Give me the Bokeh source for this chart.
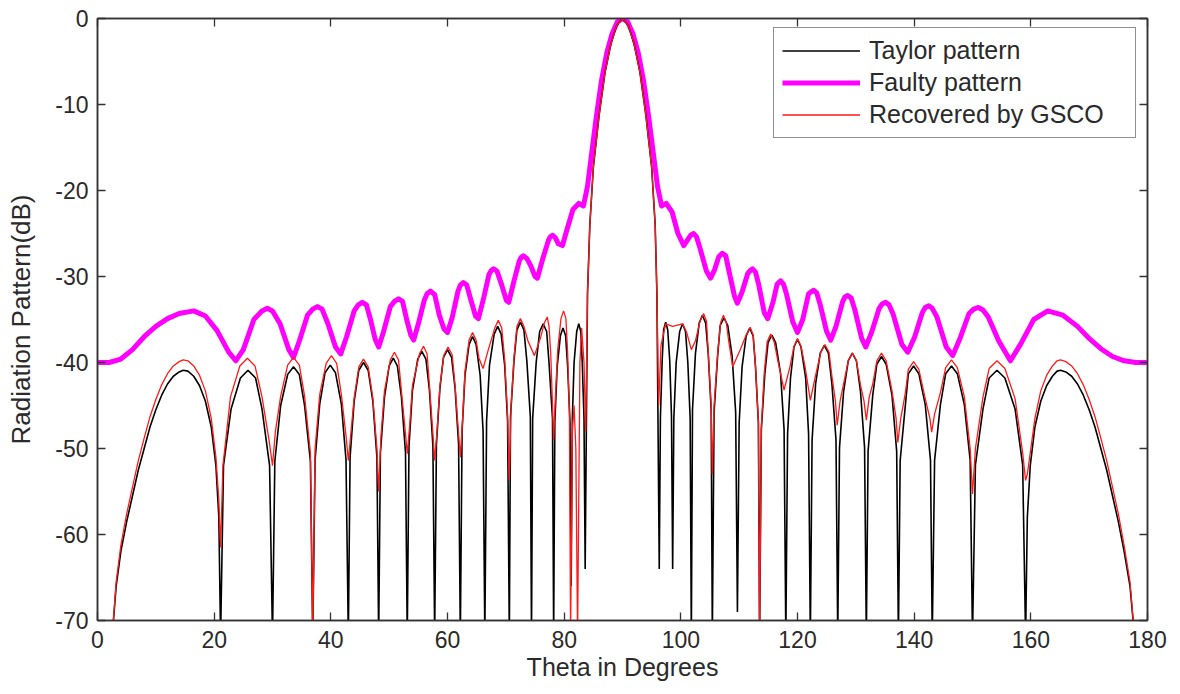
from bokeh.plotting import figure
from bokeh.models import LinearAxis, Range1d, FixedTicker, Legend, LegendItem, CustomJSTickFormatter
from bokeh.embed import file_html
from bokeh.resources import INLINE

# ---------------- data ----------------
x_ticks = [0, 20, 40, 60, 80, 100, 120, 140, 160, 180]
y_ticks = [0, -10, -20, -30, -40, -50, -60, -70]

series_names = ["Taylor pattern", "Faulty pattern", "Recovered by GSCO"]

# Taylor pattern (black): (theta in degrees, level in dB)
taylor_points = [
    (2.5, -72), (3.2, -66), (4.0, -62), (5.0, -58.5), (6.0, -55.5), (7.0, -52.5), (8.0, -50), (9.0, -47.5),
    (10.0, -45.5), (11.0, -43.8), (12.0, -42.5), (13.0, -41.6), (14.0, -41.1), (14.7, -40.9), (15.5, -41.0),
    (16.5, -41.6), (17.5, -42.7), (18.5, -44.5), (19.5, -47.5), (20.3, -52), (20.8, -58), (21.1, -72),
    (21.6, -52), (22.9, -45.4), (24.5, -41.8), (25.8, -40.9), (27.1, -41.8), (28.2, -45.4), (29.5, -52), (30.0, -72),
    (30.4, -51.5), (31.4, -45), (32.6, -41.4), (33.6, -40.5), (34.6, -41.4), (35.5, -45), (36.5, -51.5), (36.9, -72),
    (37.3, -51.3), (38.1, -44.8), (39.0, -41.2), (39.9, -40.3), (40.8, -41.2), (41.8, -44.8), (42.6, -51.3), (43.0, -72),
    (43.3, -51), (44.0, -44.5), (44.8, -40.9), (45.6, -40.0), (46.4, -40.9), (47.2, -44.5), (47.9, -51), (48.2, -72),
    (48.5, -50.5), (49.2, -44), (50.0, -40.4), (50.7, -39.5), (51.4, -40.4), (52.1, -44), (52.8, -50.5), (53.1, -72),
    (53.4, -49.7), (54.0, -43.2), (54.9, -39.6), (55.6, -38.7), (56.3, -39.6), (56.9, -43.2), (57.5, -49.7), (57.8, -72),
    (58.1, -49.5), (58.7, -43), (59.3, -39.4), (60.0, -38.5), (60.7, -39.4), (61.3, -43), (61.9, -49.5), (62.2, -72),
    (62.5, -48), (63.0, -41.5), (63.7, -37.9), (64.3, -37), (64.9, -37.9), (65.6, -41.5), (66.1, -48), (66.4, -72),
    (66.7, -46.8), (67.2, -40.3), (68.0, -36.7), (68.6, -35.8), (69.2, -36.7), (69.8, -40.3), (70.3, -46.8), (70.6, -72),
    (70.8, -46.3), (71.4, -39.8), (71.9, -36.2), (72.5, -35.3), (73.1, -36.2), (73.6, -39.8), (74.2, -46.3), (74.4, -72),
    (74.6, -46.5), (75.2, -40), (75.8, -36.4), (76.4, -35.5), (77.0, -36.4), (77.4, -40), (78.0, -46.5), (78.2, -72),
    (78.4, -47), (78.8, -40.5), (79.35, -36.9), (79.8, -36), (80.25, -36.9), (80.6, -40.5), (81.0, -47), (81.2, -66),
    (81.4, -46.5), (81.7, -40), (82.15, -36.4), (82.5, -35.5), (82.85, -36.4), (83.1, -40), (83.4, -46.5), (83.6, -64),
    (84.0, -32), (84.4, -24), (85.0, -17.3), (86.0, -11.2), (87.0, -6.3), (88.0, -3.0), (89.0, -0.8), (90.0, 0),
    (91.0, -0.8), (92.0, -3.0), (93.0, -6.3), (94.0, -11.2), (95.0, -17.3), (95.6, -24), (95.9, -32), (96.3, -64),
    (96.5, -46.3), (96.8, -39.8), (97.05, -36.2), (97.4, -35.3), (97.75, -36.2), (98.1, -39.8), (98.4, -46.3), (98.6, -64),
    (98.8, -46.5), (99.2, -40), (99.8, -36.4), (100.3, -35.5), (100.8, -36.4), (101.2, -40), (101.6, -46.5), (101.8, -72),
    (102.0, -45.5), (102.5, -39), (103.15, -35.4), (103.7, -34.5), (104.25, -35.4), (104.7, -39), (105.2, -45.5), (105.4, -72),
    (105.7, -45.8), (106.3, -39.3), (106.75, -35.7), (107.4, -34.8), (108.05, -35.7), (108.8, -39.3), (109.4, -45.8), (109.7, -69),
    (110.0, -47), (110.5, -40.5), (111.2, -36.9), (111.8, -36), (112.4, -36.9), (112.8, -40.5), (113.3, -47), (113.5, -72),
    (113.8, -47.8), (114.4, -41.3), (114.95, -37.7), (115.6, -36.8), (116.25, -37.7), (117.1, -41.3), (117.7, -47.8), (118.0, -72),
    (118.3, -48.3), (118.8, -41.8), (119.4, -38.2), (120.0, -37.3), (120.6, -38.2), (121.4, -41.8), (121.9, -48.3), (122.2, -72),
    (122.5, -49), (123.1, -42.5), (123.9, -38.9), (124.6, -38), (125.3, -38.9), (125.9, -42.5), (126.6, -49), (126.9, -72),
    (127.2, -49.9), (127.9, -43.4), (128.7, -39.8), (129.4, -38.9), (130.1, -39.8), (130.8, -43.4), (131.5, -49.9), (131.8, -72),
    (132.1, -50.3), (132.9, -43.8), (133.6, -40.2), (134.4, -39.3), (135.2, -40.2), (136.2, -43.8), (137.0, -50.3), (137.3, -72),
    (137.6, -51.4), (138.5, -44.9), (139.0, -41.3), (139.9, -40.4), (140.8, -41.3), (141.9, -44.9), (142.8, -51.4), (143.1, -72),
    (143.5, -51.4), (144.5, -44.9), (145.4, -41.3), (146.4, -40.4), (147.4, -41.3), (148.6, -44.9), (149.6, -51.4), (150.0, -72),
    (150.5, -51.9), (151.8, -45.4), (152.85, -41.8), (154.2, -40.9), (155.55, -41.8), (157.3, -45.4), (158.6, -51.9), (159.1, -72),
    (159.4, -58), (159.9, -52), (160.7, -47.5), (161.7, -44.5), (162.7, -42.7), (163.7, -41.6), (164.5, -41.0), (165.1, -40.9),
    (166.0, -41.1), (167.0, -41.6), (168.0, -42.5), (169.0, -43.8), (170.0, -45.5), (171.0, -47.5), (172.0, -50), (173.0, -52.5),
    (174.0, -55.5), (175.0, -58.5), (176.0, -62), (177.0, -66), (177.8, -72),
]

# Faulty pattern (magenta)
faulty_points = [
    (0, -40), (2, -40), (4, -39.6), (6, -38.5), (8, -37), (10, -35.8), (12, -34.9), (14, -34.3), (16.5, -34.0),
    (18.5, -34.6), (20.5, -36.3), (22.5, -38.8), (23.7, -39.8), (25, -38.5), (26.8, -35), (28.2, -34.0), (29.1, -33.7),
    (30.0, -34.0), (31.3, -35.5), (32.8, -38.5), (33.6, -39.4), (34.6, -37.5), (36.0, -34.5), (36.9, -33.8), (37.7, -33.5),
    (38.5, -33.8), (39.5, -35.5), (40.8, -38.2), (41.7, -39.0), (42.7, -37), (44.0, -34), (44.7, -33.3), (45.4, -33.0),
    (46.1, -33.3), (46.8, -35), (47.6, -37.3), (48.2, -38.2), (49.0, -36.5), (50.2, -33.5), (50.9, -32.9), (51.6, -32.6),
    (52.3, -32.9), (53.0, -35), (53.7, -36.8), (54.2, -37.4), (55.0, -35.5), (56.0, -32.8), (56.5, -32.0), (57.1, -31.7),
    (57.8, -32.1), (58.6, -34.5), (59.4, -36.1), (60.0, -36.5), (60.8, -34.8), (61.8, -31.7), (62.2, -31.0), (62.7, -30.7),
    (63.3, -31.0), (64.0, -32.7), (64.8, -34.6), (65.3, -34.9), (66.2, -32.5), (67.1, -29.8), (67.5, -29.3), (67.9, -29.1),
    (68.5, -29.4), (69.3, -31), (70.1, -32.8), (70.5, -33.0), (71.4, -30.5), (72.3, -28.2), (72.6, -27.8), (73.0, -27.6),
    (73.6, -27.9), (74.3, -28.8), (75.0, -30.0), (75.4, -30.2), (76.3, -28), (77.3, -25.8), (77.6, -25.4), (78.0, -25.2),
    (78.5, -25.5), (79.0, -26.2), (79.7, -26.4), (80.5, -24.5), (81.5, -22.2), (82.5, -21.5), (83.3, -21.8), (84.0, -19.5),
    (84.8, -15.2), (85.5, -11.5), (86.4, -7.2), (87.3, -4), (88.2, -1.8), (89.1, -0.4), (90.0, 0), (90.9, -0.4),
    (91.8, -1.8), (92.7, -4), (93.6, -7.2), (94.5, -11.5), (95.2, -15.2), (96.0, -19.5), (96.7, -21.8), (97.5, -21.5),
    (98.5, -22.5), (99.5, -25), (100.5, -26.4), (101.3, -25.6), (101.7, -25.2), (102.2, -25.0), (102.7, -25.4), (103.2, -26.5),
    (104.4, -29.4), (105.1, -30.2), (105.8, -29.2), (106.5, -27.7), (107.1, -27.3), (107.7, -27.6), (108.2, -29.2), (109.2, -32.3),
    (109.7, -33.1), (110.5, -31.8), (111.5, -29.6), (111.9, -29.3), (112.3, -29.1), (112.8, -29.5), (113.3, -30.8), (114.3, -34.2),
    (114.9, -34.9), (115.8, -33), (116.5, -30.9), (117.1, -30.5), (117.6, -30.9), (118.1, -32), (119.2, -35.3), (120.0, -36.5),
    (120.9, -35), (121.9, -32), (122.3, -31.8), (122.8, -31.6), (123.3, -31.9), (123.9, -33.3), (125.0, -36.4), (125.7, -37.4),
    (126.6, -35.8), (127.7, -33), (128.1, -32.4), (128.6, -32.2), (129.2, -32.5), (129.8, -33.8), (131.0, -37.2), (131.7, -38.2),
    (132.7, -36.5), (134.0, -33.7), (134.5, -33.2), (135.1, -33.0), (135.7, -33.3), (136.4, -34.4), (137.9, -37.9), (138.9, -38.8),
    (140.1, -37), (141.4, -34.2), (141.9, -33.6), (142.5, -33.4), (143.1, -33.7), (143.9, -34.7), (145.5, -38.2), (146.6, -39.2),
    (147.8, -37.3), (149.4, -34.3), (150.2, -33.8), (151.0, -33.6), (151.8, -33.9), (152.7, -34.7), (154.5, -37.5), (156.5, -39.8),
    (158.3, -37.8), (160.5, -35), (162.9, -34.0), (165.5, -34.5), (168, -35.8), (170, -37.2), (172, -38.4), (174, -39.3),
    (176, -39.8), (178, -40), (180, -40),
]

# Recovered by GSCO (red)
gsco_points = [
    (2.5, -72), (3.2, -65.5), (4.0, -61.3), (5.0, -57.6), (6.0, -54.5), (7.0, -51.4), (8.0, -48.8), (9.0, -46.3),
    (10.0, -44.3), (11.0, -42.6), (12.0, -41.3), (13.0, -40.4), (14.0, -39.9), (14.7, -39.7), (15.5, -39.8),
    (16.5, -40.4), (17.5, -41.5), (18.5, -43.3), (19.5, -46.5), (20.3, -51), (20.8, -56), (21.1, -61.5),
    (21.5, -52), (22.8, -44), (24.4, -40.4), (25.7, -39.5), (27.0, -40.4), (28.2, -44), (29.4, -49), (30.0, -52),
    (30.5, -48), (31.4, -43.9), (32.6, -40.3), (33.6, -39.4), (34.6, -40.3), (35.5, -43.9), (36.5, -50.5), (36.9, -72),
    (37.3, -50), (38.1, -43.7), (39.2, -40.1), (40.1, -39.2), (41.0, -40.1), (41.8, -43.7), (42.6, -48.5), (43.0, -51.4),
    (43.4, -48.5), (44.0, -44.1), (44.8, -40.5), (45.6, -39.6), (46.4, -40.5), (47.2, -44.1), (47.9, -50), (48.2, -55),
    (48.6, -48.5), (49.2, -43.3), (50.2, -39.7), (50.9, -38.8), (51.6, -39.7), (52.1, -43.3), (52.8, -48.3), (53.1, -50.6),
    (53.5, -47.5), (54.0, -42.6), (55.2, -39.0), (55.9, -38.1), (56.5, -39.0), (56.9, -42.6), (57.5, -48.3), (57.8, -51.4),
    (58.2, -48), (58.7, -42.7), (59.4, -39.1), (60.1, -38.2), (60.8, -39.1), (61.3, -42.7), (61.9, -48.3), (62.2, -51),
    (62.6, -46.5), (63.0, -41), (63.7, -37.4), (64.3, -36.5), (64.9, -37.4), (65.4, -39.5), (66.1, -40.7),
    (67.0, -38.5), (68.1, -36.0), (68.7, -35.1), (69.3, -36.0), (69.8, -39.6), (70.3, -46), (70.6, -53.7),
    (70.9, -45), (71.4, -39.4), (71.9, -35.8), (72.5, -34.9), (73.1, -35.8), (73.8, -37.5), (74.9, -39.2),
    (76.0, -37), (76.6, -35.4), (77.1, -34.7), (77.4, -35.8), (77.7, -39), (78.0, -45), (78.2, -49),
    (78.5, -44), (78.9, -38.5), (79.45, -34.9), (79.9, -34.0), (80.3, -34.9), (80.6, -39), (80.9, -46), (81.1, -72),
    (81.4, -48), (81.7, -45), (82.0, -50), (82.3, -72),
    (82.7, -40), (83.0, -36), (83.4, -40), (83.7, -48),
    (84.0, -32), (84.4, -24), (85.0, -17.3), (86.0, -11.2), (87.0, -6.3), (88.0, -3.0), (89.0, -0.8), (90.0, 0),
    (91.0, -0.8), (92.0, -3.0), (93.0, -6.3), (94.0, -11.2), (95.0, -17.3), (95.6, -24), (95.9, -32), (96.2, -45),
    (96.6, -38), (97.4, -35.5), (98.6, -35.8), (100.3, -35.5), (101.0, -36.5), (101.8, -38.5),
    (102.5, -37.5), (103.3, -35.2), (103.9, -34.3), (104.4, -35.2), (104.7, -38.8), (105.2, -45), (105.4, -53),
    (105.7, -45), (106.3, -39), (106.8, -35.4), (107.3, -34.5), (107.8, -35.4), (108.2, -37.5), (108.9, -40.5),
    (110.2, -38.5), (111.2, -36.8), (111.9, -35.9), (112.4, -36.8), (112.8, -40.4), (113.3, -47), (113.5, -72),
    (113.8, -47.5), (114.3, -41.2), (114.8, -37.6), (115.4, -36.7), (116.0, -37.6), (116.7, -40), (117.7, -43.2),
    (118.7, -40.5), (119.4, -38.1), (120.0, -37.2), (120.6, -38.1), (121.3, -40.5), (122.2, -44.4),
    (123.1, -41.5), (124.0, -38.8), (124.7, -37.9), (125.4, -38.8), (125.9, -41.6), (126.5, -44.5), (126.8, -47.3),
    (127.3, -44.5), (127.9, -42.5), (128.7, -39.8), (129.4, -38.9), (130.1, -39.8), (130.8, -42.6), (131.4, -44.5), (131.8, -46.7),
    (132.3, -44), (132.9, -42.5), (133.6, -39.8), (134.4, -38.9), (135.2, -39.8), (136.2, -43.3), (136.9, -46.5), (137.2, -49.3),
    (137.7, -46.5), (138.5, -43.5), (139.0, -40.8), (139.9, -39.9), (140.8, -40.8), (141.9, -44.2), (142.7, -46.5), (143.0, -48.1),
    (143.5, -46), (144.5, -43.5), (145.4, -40.6), (146.4, -39.7), (147.4, -40.6), (148.6, -44), (149.6, -50), (150.0, -55.3),
    (150.5, -50), (151.8, -44), (152.85, -40.7), (154.2, -39.8), (155.55, -40.7), (157.3, -44.2), (158.6, -50.5), (159.1, -53.7),
    (159.4, -53), (159.9, -50.5), (160.7, -46.5), (161.7, -43.3), (162.7, -41.5), (163.7, -40.4), (164.5, -39.8), (165.1, -39.7),
    (166.0, -39.9), (167.0, -40.4), (168.0, -41.3), (169.0, -42.6), (170.0, -44.3), (171.0, -46.3), (172.0, -48.8), (173.0, -51.4),
    (174.0, -54.5), (175.0, -57.6), (176.0, -61.3), (177.0, -65.5), (177.8, -72),
]

taylor_theta = [t for t, _ in taylor_points]
taylor_db = [v for _, v in taylor_points]
faulty_theta = [t for t, _ in faulty_points]
faulty_db = [v for _, v in faulty_points]
gsco_theta = [t for t, _ in gsco_points]
gsco_db = [v for _, v in gsco_points]

# ---------------- figure ----------------
FONT = "Liberation Sans"
TXT = "#2a2a2a"

p = figure(width=1172, height=692,
           x_range=Range1d(0, 180), y_range=Range1d(-70, 0),
           output_backend="svg", toolbar_location=None,
           min_border_left=97, min_border_right=25, min_border_top=18, min_border_bottom=72)

p.background_fill_color = "white"
p.border_fill_color = "white"
p.outline_line_color = "#333333"
p.outline_line_width = 1.5
p.xgrid.visible = False
p.ygrid.visible = False

r_faulty = p.line(faulty_theta, faulty_db, line_color="#ff00ff", line_width=5, line_join="round")
r_taylor = p.line(taylor_theta, taylor_db, line_color="black", line_width=1.6)
r_gsco = p.line(gsco_theta, gsco_db, line_color="#ff1a1a", line_width=1.3)

plain_fmt = CustomJSTickFormatter(code="return String(tick);")
blank_fmt = CustomJSTickFormatter(code="return '';")

def style_axis(ax, ticks, show_labels=True):
    ax.ticker = FixedTicker(ticks=ticks)
    ax.major_tick_in = 8
    ax.major_tick_out = 0
    ax.major_tick_line_color = "#333333"
    ax.major_tick_line_width = 1.3
    ax.minor_tick_line_color = None
    ax.axis_line_color = "#333333"
    ax.axis_line_width = 1.5
    if show_labels:
        ax.formatter = plain_fmt
        ax.major_label_text_font = FONT
        ax.major_label_text_font_size = "23px"
        ax.major_label_text_color = TXT
        ax.axis_label_text_font = FONT
        ax.axis_label_text_font_style = "normal"
        ax.axis_label_text_color = TXT
    else:
        ax.formatter = blank_fmt
        ax.major_label_standoff = 0

style_axis(p.xaxis[0], x_ticks)
style_axis(p.yaxis[0], y_ticks)
p.xaxis[0].axis_label = "Theta in Degrees"
p.yaxis[0].axis_label = "Radiation Pattern(dB)"
p.xaxis[0].major_label_standoff = 10
p.xaxis[0].axis_label_standoff = 2
p.xaxis[0].axis_label_text_font_size = "25px"
p.yaxis[0].major_label_standoff = 9
p.yaxis[0].axis_label_standoff = 16
p.yaxis[0].axis_label_text_font_size = "26px"

top_axis = LinearAxis()
style_axis(top_axis, x_ticks, show_labels=False)
p.add_layout(top_axis, "above")
right_axis = LinearAxis()
style_axis(right_axis, y_ticks, show_labels=False)
p.add_layout(right_axis, "right")

legend = Legend(items=[LegendItem(label=series_names[0], renderers=[r_taylor]),
                       LegendItem(label=series_names[1], renderers=[r_faulty]),
                       LegendItem(label=series_names[2], renderers=[r_gsco])],
                location=(676, 482))
legend.label_text_font = FONT
legend.label_text_font_size = "25px"
legend.label_text_color = TXT
legend.glyph_width = 78
legend.glyph_height = 29
legend.label_height = 29
legend.label_width = 258
legend.label_standoff = 9
legend.spacing = 3
legend.padding = 8
legend.margin = 0
legend.border_line_color = "#222222"
legend.border_line_width = 1.5
legend.background_fill_color = "white"
legend.background_fill_alpha = 1.0
p.add_layout(legend)

open("out.html", "w").write(file_html(p, INLINE))
